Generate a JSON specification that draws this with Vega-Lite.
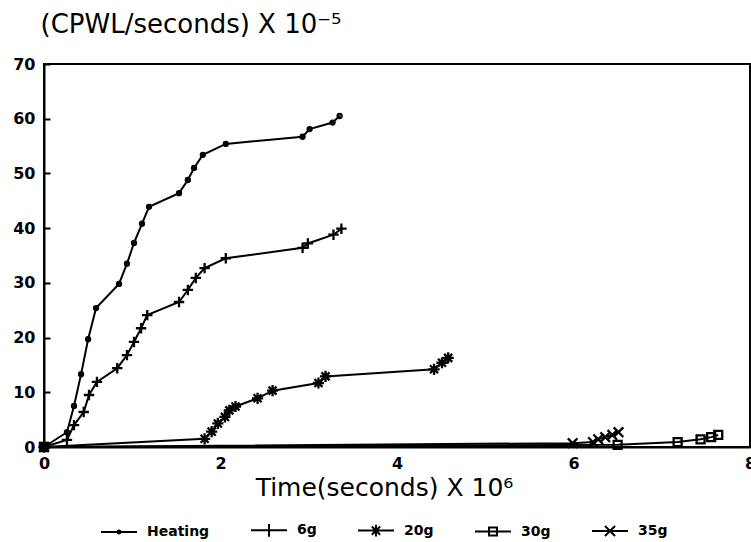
{
  "$schema": "https://vega.github.io/schema/vega-lite/v6.json",
  "width": 706,
  "height": 383,
  "autosize": {"type": "none"},
  "padding": {"left": 44, "top": 64, "right": 1, "bottom": 95},
  "background": "white",
  "config": {
    "view": {"stroke": "black", "strokeWidth": 2},
    "font": "DejaVu Sans"
  },
  "data": {
    "values": [
      {"series": "Heating", "t": 0, "v": 0},
      {"series": "Heating", "t": 0.26, "v": 2.7},
      {"series": "Heating", "t": 0.34, "v": 7.5},
      {"series": "Heating", "t": 0.42, "v": 13.3},
      {"series": "Heating", "t": 0.5, "v": 19.7},
      {"series": "Heating", "t": 0.59, "v": 25.4},
      {"series": "Heating", "t": 0.85, "v": 29.8},
      {"series": "Heating", "t": 0.94, "v": 33.5},
      {"series": "Heating", "t": 1.02, "v": 37.3},
      {"series": "Heating", "t": 1.11, "v": 40.8},
      {"series": "Heating", "t": 1.19, "v": 43.9},
      {"series": "Heating", "t": 1.53, "v": 46.4},
      {"series": "Heating", "t": 1.63, "v": 48.8},
      {"series": "Heating", "t": 1.7, "v": 51.0},
      {"series": "Heating", "t": 1.8, "v": 53.4},
      {"series": "Heating", "t": 2.06, "v": 55.4},
      {"series": "Heating", "t": 2.93, "v": 56.7},
      {"series": "Heating", "t": 3.01, "v": 58.1},
      {"series": "Heating", "t": 3.27, "v": 59.3},
      {"series": "Heating", "t": 3.35, "v": 60.5},
      {"series": "6g", "t": 0, "v": 0},
      {"series": "6g", "t": 0.26, "v": 1.3},
      {"series": "6g", "t": 0.34, "v": 4.0},
      {"series": "6g", "t": 0.45, "v": 6.4},
      {"series": "6g", "t": 0.51, "v": 9.5},
      {"series": "6g", "t": 0.6, "v": 11.9},
      {"series": "6g", "t": 0.83, "v": 14.4},
      {"series": "6g", "t": 0.94, "v": 16.8},
      {"series": "6g", "t": 1.02, "v": 19.2},
      {"series": "6g", "t": 1.1, "v": 21.7},
      {"series": "6g", "t": 1.17, "v": 24.1},
      {"series": "6g", "t": 1.53, "v": 26.5},
      {"series": "6g", "t": 1.63, "v": 28.7},
      {"series": "6g", "t": 1.72, "v": 30.9},
      {"series": "6g", "t": 1.82, "v": 32.7},
      {"series": "6g", "t": 2.06, "v": 34.5},
      {"series": "6g", "t": 2.93, "v": 36.4},
      {"series": "6g", "t": 2.99, "v": 37.2},
      {"series": "6g", "t": 3.28, "v": 38.8},
      {"series": "6g", "t": 3.37, "v": 39.9},
      {"series": "20g", "t": 0, "v": 0},
      {"series": "20g", "t": 1.82, "v": 1.5},
      {"series": "20g", "t": 1.9, "v": 2.8},
      {"series": "20g", "t": 1.97, "v": 4.3},
      {"series": "20g", "t": 2.05, "v": 5.5},
      {"series": "20g", "t": 2.1, "v": 6.7},
      {"series": "20g", "t": 2.17, "v": 7.4},
      {"series": "20g", "t": 2.42, "v": 8.9},
      {"series": "20g", "t": 2.59, "v": 10.3},
      {"series": "20g", "t": 3.11, "v": 11.7},
      {"series": "20g", "t": 3.19, "v": 12.9},
      {"series": "20g", "t": 4.42, "v": 14.2},
      {"series": "20g", "t": 4.51, "v": 15.4},
      {"series": "20g", "t": 4.58, "v": 16.3},
      {"series": "30g", "t": 0, "v": 0},
      {"series": "30g", "t": 6.5, "v": 0.4},
      {"series": "30g", "t": 7.18, "v": 0.9},
      {"series": "30g", "t": 7.44, "v": 1.4},
      {"series": "30g", "t": 7.56, "v": 1.8},
      {"series": "30g", "t": 7.64, "v": 2.2},
      {"series": "35g", "t": 0, "v": 0},
      {"series": "35g", "t": 5.99, "v": 0.7},
      {"series": "35g", "t": 6.22, "v": 0.9},
      {"series": "35g", "t": 6.28, "v": 1.4},
      {"series": "35g", "t": 6.36, "v": 1.8},
      {"series": "35g", "t": 6.44, "v": 2.2},
      {"series": "35g", "t": 6.51, "v": 2.7}
    ]
  },
  "encoding": {
    "x": {
      "field": "t",
      "type": "quantitative",
      "scale": {"domain": [0, 8], "nice": false, "zero": false},
      "axis": {
        "title": "Time(seconds) X 10⁶",
        "values": [0, 2, 4, 6, 8],
        "grid": false,
        "ticks": false,
        "labelPadding": 8,
        "labelFont": "DejaVu Sans",
        "labelFontWeight": "bold",
        "labelFontSize": 16,
        "labelColor": "black",
        "labelFlush": false,
        "domainColor": "black",
        "domainWidth": 2,
        "titleFont": "DejaVu Sans",
        "titleFontWeight": "normal",
        "titleFontSize": 25,
        "titleColor": "black",
        "titleX": 340,
        "titleY": 40,
        "titleAlign": "center",
        "titleBaseline": "middle"
      }
    },
    "y": {
      "field": "v",
      "type": "quantitative",
      "scale": {"domain": [0, 70], "nice": false},
      "axis": {
        "title": "(CPWL/seconds) X 10⁻⁵",
        "values": [0, 10, 20, 30, 40, 50, 60, 70],
        "grid": false,
        "tickSize": -6,
        "tickWidth": 2,
        "tickColor": "black",
        "labelPadding": 15,
        "labelFont": "DejaVu Sans",
        "labelFontWeight": "bold",
        "labelFontSize": 16,
        "labelColor": "black",
        "domainColor": "black",
        "domainWidth": 2,
        "titleFont": "DejaVu Sans",
        "titleFontWeight": "normal",
        "titleFontSize": 26,
        "titleColor": "black",
        "titleAngle": 0,
        "titleAlign": "left",
        "titleBaseline": "middle",
        "titleX": -4,
        "titleY": -40
      }
    }
  },
  "resolve": {"scale": {"shape": "independent"}},
  "layer": [
    {
      "mark": {"type": "line", "color": "black", "strokeWidth": 2},
      "encoding": {"detail": {"field": "series", "type": "nominal"}}
    },
    {
      "mark": {"type": "point", "filled": false, "stroke": "black", "strokeWidth": 2.3, "size": 64, "opacity": 1},
      "encoding": {
        "shape": {
          "field": "series",
          "type": "nominal",
          "scale": {
            "domain": ["Heating", "6g", "20g", "30g", "35g"],
            "range": [
              "M-0.5,0A0.5,0.5,0,1,1,0.5,0A0.5,0.5,0,1,1,-0.5,0Z",
              "M-1.3,0L1.3,0M0,-1.3L0,1.3",
              "M-1.4,0L1.4,0M0,-1.4L0,1.4M-1,-1L1,1M-1,1L1,-1",
              "M-1,-1L1,-1L1,1L-1,1Z",
              "M-1.2,-1.2L1.2,1.2M-1.2,1.2L1.2,-1.2"
            ]
          },
          "legend": null
        }
      }
    },
    {
      "mark": {"type": "point", "filled": false, "stroke": "black", "size": 0, "opacity": 0},
      "encoding": {
        "shape": {
          "field": "series",
          "type": "nominal",
          "scale": {
            "domain": ["Heating", "6g", "20g", "30g", "35g"],
            "range": [
              "M-1,0L1,0M-0.08,0A0.08,0.08,0,1,1,0.08,0A0.08,0.08,0,1,1,-0.08,0Z",
              "M-1,0L1,0M0,-0.35L0,0.35",
              "M-1,0L1,0M0,-0.32L0,0.32M-0.23,-0.23L0.23,0.23M-0.23,0.23L0.23,-0.23",
              "M-1,0L1,0M-0.22,-0.22L0.22,-0.22L0.22,0.22L-0.22,0.22Z",
              "M-1,0L1,0M-0.28,-0.28L0.28,0.28M-0.28,0.28L0.28,-0.28"
            ]
          },
          "legend": {
            "title": null,
            "orient": "none",
            "direction": "horizontal",
            "legendX": 56,
            "legendY": 447,
            "symbolSize": 1296,
            "symbolOpacity": 1,
            "symbolStrokeWidth": 2,
            "symbolStrokeColor": "black",
            "symbolFillColor": "transparent",
            "labelFont": "DejaVu Sans",
            "labelFontWeight": "bold",
            "labelFontSize": 14,
            "labelColor": "black",
            "labelOffset": 9,
            "columnPadding": 37
          }
        }
      }
    }
  ]
}
